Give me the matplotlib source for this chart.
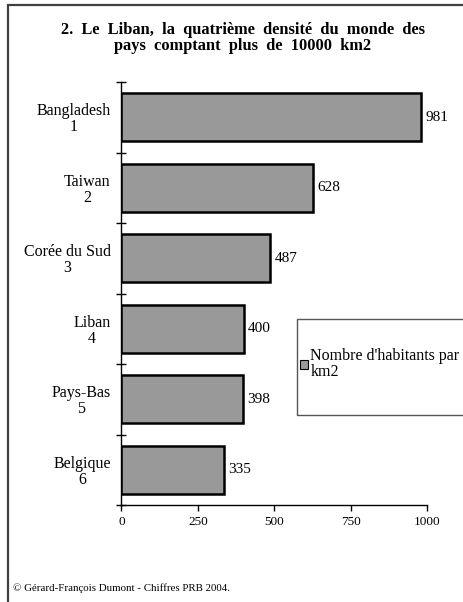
import matplotlib
matplotlib.use("Agg")
import matplotlib.pyplot as plt
from matplotlib.patches import Rectangle
import numpy as np

plt.rcParams['font.family'] = ['Liberation Serif', 'DejaVu Serif']

countries = ["Bangladesh", "Taiwan", "Corée du Sud", "Liban", "Pays-Bas", "Belgique"]
ranks = ["1", "2", "3", "4", "5", "6"]
density = [981, 628, 487, 400, 398, 335]
xticks = [0, 250, 500, 750, 1000]
title = ("2.  Le  Liban,  la  quatrième  densité  du  monde  des\n"
         "pays  comptant  plus  de  10000  km2")
legend_label = "Nombre d'habitants par\nkm2"
credit = "© Gérard-François Dumont - Chiffres PRB 2004."

W, H = 464, 602
fig = plt.figure(figsize=(W / 100, H / 100), dpi=100)
fig.patch.set_facecolor("white")

ax = fig.add_axes([121.5 / W, (H - 505) / H, 305.5 / W, 423 / H])
pos = np.arange(len(countries))
ax.barh(pos, density, height=0.68, color="#999999", edgecolor="black", linewidth=1.8)
for p, v in zip(pos, density):
    ax.text(v + 14, p, f"{v}", va="center", ha="left", fontsize=11)

ax.set_xlim(0, 1000)
ax.set_ylim(len(countries) - 0.5, -0.5)
for s in ("top", "right"):
    ax.spines[s].set_visible(False)
for s in ("left", "bottom"):
    ax.spines[s].set_linewidth(1.0)

ax.set_xticks(xticks)
ax.set_xticklabels([str(t) for t in xticks], fontsize=9.5)
ax.tick_params(axis="x", direction="out", length=4, width=1, pad=4)

ax.set_yticks(np.arange(len(countries) + 1) - 0.5)
ax.set_yticklabels([])
ax.tick_params(axis="y", which="major", direction="inout", length=7, width=1)
ax.set_yticks(pos, minor=True)
ax.set_yticklabels([f"{c}\n{r}" for c, r in zip(countries, ranks)], minor=True,
                   fontsize=11.5, ha="right", multialignment="center", linespacing=1.0)
ax.tick_params(axis="y", which="minor", length=0, pad=7.8)

fig.text(243 / W, 1 - 38 / H, title, ha="center", va="center", fontsize=11.8,
         fontweight="bold", linespacing=0.95)

# Outer frame
fig.add_artist(Rectangle((8 / W, -0.1), 1.2, 1.1 - 5 / H, transform=fig.transFigure,
                         fill=False, edgecolor="#404040", linewidth=1.6, clip_on=False))

# Legend box
fig.add_artist(Rectangle((297 / W, 1 - 415 / H), 0.5, 96 / H, transform=fig.transFigure,
                         fill=False, edgecolor="#555555", linewidth=1.0, clip_on=False))
handle = Rectangle((0, 0), 1, 1, facecolor="#999999", edgecolor="black", linewidth=0.8)
leg = fig.legend([handle], [legend_label], loc="center left",
                 bbox_to_anchor=(300 / W, 1 - 364 / H), frameon=False, fontsize=11.5,
                 handlelength=0.5, handleheight=0.5, handletextpad=0.15,
                 borderpad=0, borderaxespad=0, labelspacing=0)
for t in leg.get_texts():
    t.set_linespacing(1.0)

fig.text(13 / W, 1 - 588 / H, credit, ha="left", va="center", fontsize=7.8)

fig.savefig("out.png", dpi=100)
